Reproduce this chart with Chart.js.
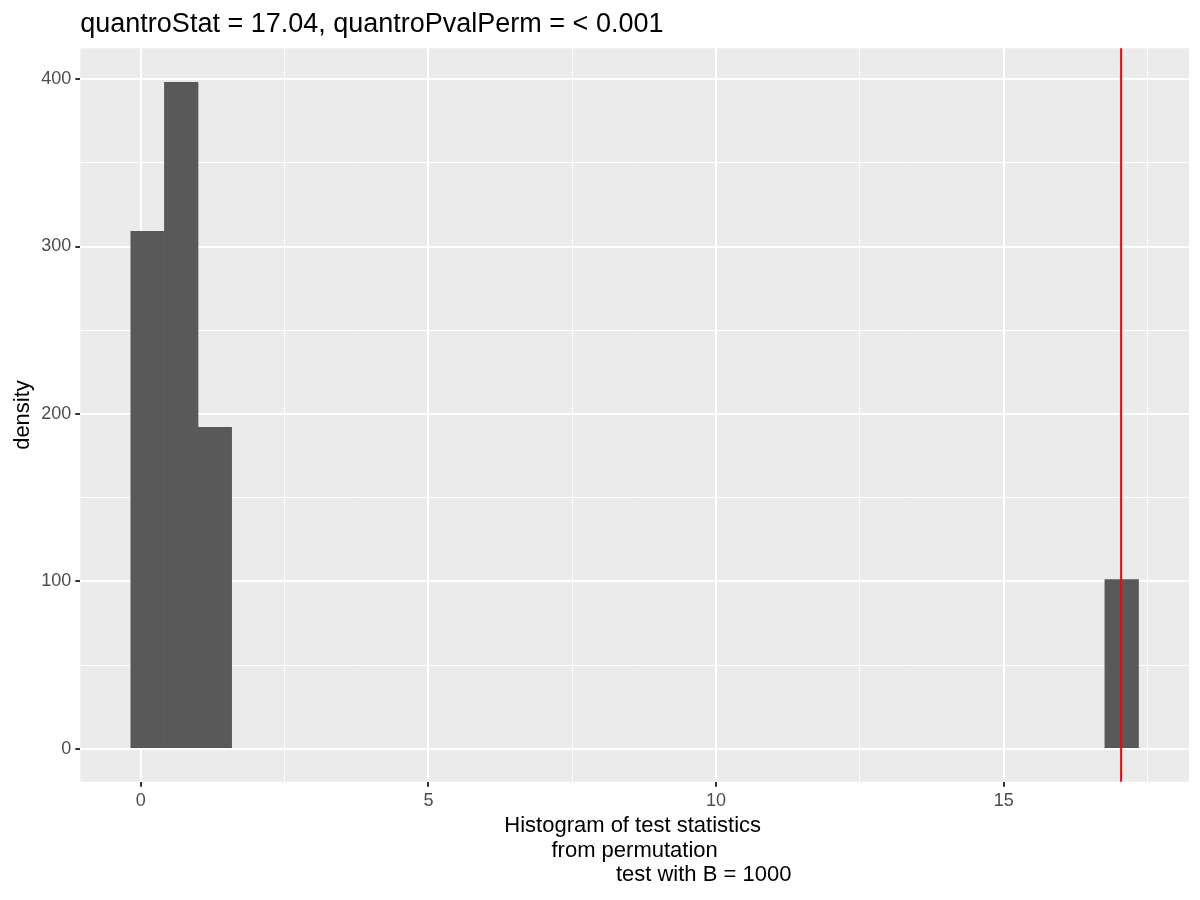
<!DOCTYPE html>
<html>
<head>
<meta charset="utf-8">
<script src="https://cdn.jsdelivr.net/npm/chart.js@4/dist/chart.umd.min.js"></script>
<style>
    html, body { margin: 0; padding: 0; background: #ffffff; }
    #chart { display: block; }
</style>
</head>
<body>
<canvas id="chart" width="1200" height="900"></canvas>
<script>
    // Data
    var binCenters = [0.120, 0.704, 1.288, 17.050];
    var binCounts = [309, 398, 192, 101];
    var quantroStat = 17.04;
    var xMajor = [0, 5, 10, 15];
    var xMinor = [2.5, 7.5, 12.5, 17.5];
    var yMajor = [0, 100, 200, 300, 400];
    var yMinor = [50, 150, 250, 350];
    var titleText = "quantroStat = 17.04, quantroPvalPerm = < 0.001";
    var xTitleLines = ["Histogram of test statistics", "from permutation", "test with B = 1000"];

    var fontFamily = '"Liberation Sans", Arial, Helvetica, sans-serif';

    function isMajor(list, v) {
        return list.indexOf(v) !== -1;
    }

    // Grey panel + title + x label + vline
    var ggDecor = {
        id: 'ggDecor',
        beforeDraw: function (chart) {
            var ctx = chart.ctx, a = chart.chartArea;
            ctx.save();
            ctx.fillStyle = '#ffffff';
            ctx.fillRect(0, 0, chart.width, chart.height);
            ctx.fillStyle = '#EBEBEB';
            ctx.fillRect(a.left, a.top, a.right - a.left, a.bottom - a.top);
            ctx.restore();
        },
        afterDatasetsDraw: function (chart) {
            var ctx = chart.ctx, a = chart.chartArea;
            var xp = chart.scales.x.getPixelForValue(quantroStat);
            ctx.save();
            ctx.strokeStyle = '#FF0000';
            ctx.lineWidth = 2;
            ctx.beginPath();
            ctx.moveTo(xp, a.top);
            ctx.lineTo(xp, a.bottom);
            ctx.stroke();
            ctx.restore();
        },
        afterDraw: function (chart) {
            var ctx = chart.ctx, a = chart.chartArea;
            ctx.save();
            ctx.fillStyle = '#000000';
            ctx.textBaseline = 'alphabetic';
            ctx.font = '27px ' + fontFamily;
            ctx.textAlign = 'left';
            ctx.fillText(titleText, a.left, 32);

            // x axis title, lines as ggplot placed them
            var cx = (a.left + a.right) / 2;
            var shifts = [-2, 0, 69];
            ctx.font = '22px ' + fontFamily;
            ctx.textAlign = 'center';
            xTitleLines.forEach(function (line, i) {
                ctx.fillText(line, cx + shifts[i], 832 + i * 24.7);
            });
            ctx.restore();
        }
    };

    var ctx = document.getElementById('chart').getContext('2d');
    var histChart = new Chart(ctx, {
        type: 'bar',
        data: {
            datasets: [{
                label: 'count',
                data: binCenters.map(function (c, i) { return {x: c, y: binCounts[i]}; }),
                backgroundColor: '#595959',
                borderWidth: 0,
                barPercentage: 1,
                categoryPercentage: 1
            }]
        },
        options: {
            responsive: false,
            animation: false,
            devicePixelRatio: 1,
            layout: {
                padding: {top: 48.3, right: 11, left: 0, bottom: 0}
            },
            plugins: {
                legend: {display: false},
                tooltip: {enabled: false},
                title: {display: false}
            },
            scales: {
                x: {
                    type: 'linear',
                    min: -1.05,
                    max: 18.22,
                    offset: false,
                    afterFit: function (s) { s.height = 118.3; },
                    afterBuildTicks: function (s) {
                        s.ticks = xMajor.concat(xMinor).sort(function (a, b) { return a - b; })
                            .map(function (v) { return {value: v}; });
                    },
                    ticks: {
                        autoSkip: false,
                        maxRotation: 0,
                        padding: 4,
                        color: '#4D4D4D',
                        font: {family: fontFamily, size: 18},
                        callback: function (v) { return isMajor(xMajor, v) ? String(v) : ''; }
                    },
                    grid: {
                        offset: false,
                        color: '#ffffff',
                        lineWidth: function (c) { return c.tick && isMajor(xMajor, c.tick.value) ? 2 : 1; },
                        tickColor: function (c) { return c.tick && isMajor(xMajor, c.tick.value) ? '#333333' : 'rgba(0,0,0,0)'; },
                        tickWidth: 2,
                        tickLength: 5
                    },
                    border: {display: false}
                },
                y: {
                    type: 'linear',
                    min: -19.7,
                    max: 418.4,
                    afterFit: function (s) { s.width = 80.3; },
                    afterBuildTicks: function (s) {
                        s.ticks = yMajor.concat(yMinor).sort(function (a, b) { return a - b; })
                            .map(function (v) { return {value: v}; });
                    },
                    ticks: {
                        autoSkip: false,
                        padding: 4,
                        color: '#4D4D4D',
                        font: {family: fontFamily, size: 18},
                        callback: function (v) { return isMajor(yMajor, v) ? String(v) : ''; }
                    },
                    grid: {
                        color: '#ffffff',
                        lineWidth: function (c) { return c.tick && isMajor(yMajor, c.tick.value) ? 2 : 1; },
                        tickColor: function (c) { return c.tick && isMajor(yMajor, c.tick.value) ? '#333333' : 'rgba(0,0,0,0)'; },
                        tickWidth: 2,
                        tickLength: 5
                    },
                    border: {display: false},
                    title: {
                        display: true,
                        text: 'density',
                        color: '#000000',
                        font: {family: fontFamily, size: 22},
                        padding: {top: 10, bottom: 0}
                    }
                }
            }
        },
        plugins: [ggDecor]
    });
</script>
</body>
</html>
